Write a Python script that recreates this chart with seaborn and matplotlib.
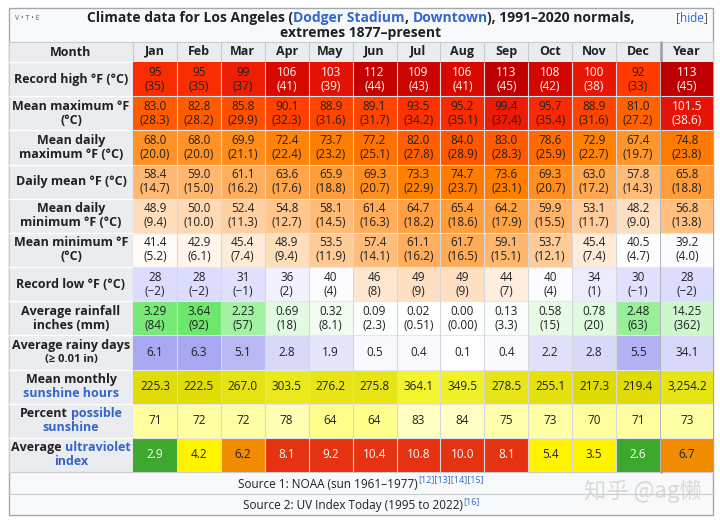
import numpy as np
import seaborn as sns
import matplotlib.pyplot as plt
from matplotlib.colors import LinearSegmentedColormap, ListedColormap
from matplotlib.patches import Rectangle

sns.set_theme(style='white')
plt.rcParams['font.family'] = ['Open Sans', 'DejaVu Sans']

# ---- data (12 months + Year) ----
months = ['Jan', 'Feb', 'Mar', 'Apr', 'May', 'Jun', 'Jul', 'Aug', 'Sep', 'Oct', 'Nov', 'Dec']
year_col = ['Year']

record_high_f = [95, 95, 99, 106, 103, 112, 109, 106, 113, 108, 100, 92, 113]
record_high_c = [35, 35, 37, 41, 39, 44, 43, 41, 45, 42, 38, 33, 45]
mean_max_f = [83.0, 82.8, 85.8, 90.1, 88.9, 89.1, 93.5, 95.2, 99.4, 95.7, 88.9, 81.0, 101.5]
mean_max_c = [28.3, 28.2, 29.9, 32.3, 31.6, 31.7, 34.2, 35.1, 37.4, 35.4, 31.6, 27.2, 38.6]
daily_max_f = [68.0, 68.0, 69.9, 72.4, 73.7, 77.2, 82.0, 84.0, 83.0, 78.6, 72.9, 67.4, 74.8]
daily_max_c = [20.0, 20.0, 21.1, 22.4, 23.2, 25.1, 27.8, 28.9, 28.3, 25.9, 22.7, 19.7, 23.8]
daily_mean_f = [58.4, 59.0, 61.1, 63.6, 65.9, 69.3, 73.3, 74.7, 73.6, 69.3, 63.0, 57.8, 65.8]
daily_mean_c = [14.7, 15.0, 16.2, 17.6, 18.8, 20.7, 22.9, 23.7, 23.1, 20.7, 17.2, 14.3, 18.8]
daily_min_f = [48.9, 50.0, 52.4, 54.8, 58.1, 61.4, 64.7, 65.4, 64.2, 59.9, 53.1, 48.2, 56.8]
daily_min_c = [9.4, 10.0, 11.3, 12.7, 14.5, 16.3, 18.2, 18.6, 17.9, 15.5, 11.7, 9.0, 13.8]
mean_min_f = [41.4, 42.9, 45.4, 48.9, 53.5, 57.4, 61.1, 61.7, 59.1, 53.7, 45.4, 40.5, 39.2]
mean_min_c = [5.2, 6.1, 7.4, 9.4, 11.9, 14.1, 16.2, 16.5, 15.1, 12.1, 7.4, 4.7, 4.0]
record_low_f = [28, 28, 31, 36, 40, 46, 49, 49, 44, 40, 34, 30, 28]
record_low_c = [-2, -2, -1, 2, 4, 8, 9, 9, 7, 4, 1, -1, -2]
rain_in = [3.29, 3.64, 2.23, 0.69, 0.32, 0.09, 0.02, 0.00, 0.13, 0.58, 0.78, 2.48, 14.25]
rain_mm = ['84', '92', '57', '18', '8.1', '2.3', '0.51', '0.00', '3.3', '15', '20', '63', '362']
rainy_days = [6.1, 6.3, 5.1, 2.8, 1.9, 0.5, 0.4, 0.1, 0.4, 2.2, 2.8, 5.5, 34.1]
sun_hours = [225.3, 222.5, 267.0, 303.5, 276.2, 275.8, 364.1, 349.5, 278.5, 255.1, 217.3, 219.4, 3254.2]
sun_pct = [71, 72, 72, 78, 64, 64, 83, 84, 75, 73, 70, 71, 73]
uv_index = [2.9, 4.2, 6.2, 8.1, 9.2, 10.4, 10.8, 10.0, 8.1, 5.4, 3.5, 2.6, 6.7]

# ---- styles ----
K = '#202122'
BLUE = '#3366cc'
HEAD_BG = '#eaecf0'
TABLE_BG = '#f8f9fa'
BORDER = '#a2a9b1'
GRID = '#d6d8dc'

temp_anchors = [(-5, '#ccccff'), (4.5, '#ffffff'), (9.4, '#ffddbb'), (14.5, '#ffba75'),
                (20, '#ff9429'), (23, '#ff8000'), (28.3, '#ff5b00'), (34, '#ff3400'),
                (38, '#e81808'), (41, '#d80a00'), (45, '#bf0000')]
t_lo, t_hi = -5, 45
temp_cmap = LinearSegmentedColormap.from_list(
    'temp', [((v - t_lo) / (t_hi - t_lo), c) for v, c in temp_anchors])
rain_cmap = LinearSegmentedColormap.from_list('rain', ['#ffffff', '#5ee65e'])
days_cmap = LinearSegmentedColormap.from_list('days', ['#ffffff', '#7373eb'])
sun_cmap = LinearSegmentedColormap.from_list('sun', ['#dcd800', '#f4f430'])
pct_cmap = LinearSegmentedColormap.from_list('pct', ['#ffff80', '#ffffd8'])
uv_cmap = ListedColormap(['#3ea72d'] * 3 + ['#fff300'] * 3 + ['#f18b00'] * 2 + ['#e53210'] * 3 + ['#b567a4'])


def temp_text(f, c, fmt):
    return [(fmt.format(a) + '\n(' + fmt.format(b) + ')').replace('-', '\u2212') for a, b in zip(f, c)]


def per_month(vals):
    # year total is coloured on the monthly scale
    return list(vals[:12]) + [vals[12] / 12]


rows = [
    dict(label=[[('Record high °F (°C)', K)]], val=record_high_c,
         text=temp_text(record_high_f, record_high_c, '{:.0f}'), cmap=temp_cmap, lim=(t_lo, t_hi),
         white=[c >= 38 for c in record_high_c]),
    dict(label=[[('Mean maximum °F', K)], [('(°C)', K)]], val=mean_max_c,
         text=temp_text(mean_max_f, mean_max_c, '{:.1f}'), cmap=temp_cmap, lim=(t_lo, t_hi),
         white=[c >= 38 for c in mean_max_c]),
    dict(label=[[('Mean daily', K)], [('maximum °F (°C)', K)]], val=daily_max_c,
         text=temp_text(daily_max_f, daily_max_c, '{:.1f}'), cmap=temp_cmap, lim=(t_lo, t_hi),
         white=[c >= 38 for c in daily_max_c]),
    dict(label=[[('Daily mean °F (°C)', K)]], val=daily_mean_c,
         text=temp_text(daily_mean_f, daily_mean_c, '{:.1f}'), cmap=temp_cmap, lim=(t_lo, t_hi),
         white=[c >= 38 for c in daily_mean_c]),
    dict(label=[[('Mean daily', K)], [('minimum °F (°C)', K)]], val=daily_min_c,
         text=temp_text(daily_min_f, daily_min_c, '{:.1f}'), cmap=temp_cmap, lim=(t_lo, t_hi),
         white=[c >= 38 for c in daily_min_c]),
    dict(label=[[('Mean minimum °F', K)], [('(°C)', K)]], val=mean_min_c,
         text=temp_text(mean_min_f, mean_min_c, '{:.1f}'), cmap=temp_cmap, lim=(t_lo, t_hi),
         white=[c >= 38 for c in mean_min_c]),
    dict(label=[[('Record low °F (°C)', K)]], val=record_low_c,
         text=temp_text(record_low_f, record_low_c, '{:.0f}'), cmap=temp_cmap, lim=(t_lo, t_hi),
         white=[c >= 38 for c in record_low_c]),
    dict(label=[[('Average rainfall', K)], [('inches (mm)', K)]],
         val=per_month([float(m) for m in rain_mm]),
         text=['{:.2f}\n({})'.format(a, b) for a, b in zip(rain_in, rain_mm)], cmap=rain_cmap,
         lim=(0, 100), white=[False] * 13),
    dict(label=[[('Average rainy days', K)], [('(≥ 0.01 in)', K, 8)]], val=per_month(rainy_days),
         text=['{:.1f}'.format(v) for v in rainy_days], cmap=days_cmap, lim=(0, 10),
         white=[False] * 13),
    dict(label=[[('Mean monthly', K)], [('sunshine hours', BLUE)]], val=per_month(sun_hours),
         text=['{:,.1f}'.format(v) for v in sun_hours], cmap=sun_cmap, lim=(200, 370),
         white=[False] * 13),
    dict(label=[[('Percent ', K), ('possible', BLUE)], [('sunshine', BLUE)]], val=sun_pct,
         text=['{:d}'.format(v) for v in sun_pct], cmap=pct_cmap, lim=(60, 90),
         white=[False] * 13),
    dict(label=[[('Average ', K), ('ultraviolet', BLUE)], [('index', BLUE)]], val=uv_index,
         text=['{:.1f}'.format(v) for v in uv_index], cmap=uv_cmap, lim=(0, 12),
         white=[v < 3 or v >= 8 for v in uv_index]),
]

n = len(rows)
vals = np.array([r['val'] for r in rows], dtype=float)
texts = np.array([r['text'] for r in rows], dtype=object)
whites = np.array([r['white'] for r in rows], dtype=bool)

# ---- layout (pixels) ----
W, H = 720, 522
TL, TR, TT, TB = 9, 713, 8, 515
LAB_R, MON_R, YEAR_L = 133, 660, 661
HEAD_T, HEAD_B, GRID_B, SRC_MID = 42, 62, 472, 494


def fx(p):
    return p / W


def fy(p):
    return 1 - p / H


fig = plt.figure(figsize=(W / 100, H / 100), dpi=100)
fig.patch.set_facecolor('white')
bg = fig.add_axes([0, 0, 1, 1])
bg.set_xlim(0, W)
bg.set_ylim(H, 0)
bg.axis('off')

bg.add_patch(Rectangle((TL, TT), TR - TL, TB - TT, fc=TABLE_BG, ec=BORDER, lw=1))
bg.add_patch(Rectangle((TL, HEAD_T), TR - TL, HEAD_B - HEAD_T, fc=HEAD_BG, ec='#c8ccd1', lw=0.8))
bg.add_patch(Rectangle((TL, HEAD_T), LAB_R - TL, GRID_B - HEAD_T, fc=HEAD_BG, ec='#c8ccd1', lw=0.8))
bg.plot([TL, TR], [GRID_B, GRID_B], color='#c8ccd1', lw=0.8)
bg.plot([TL, TR], [SRC_MID, SRC_MID], color='#c8ccd1', lw=0.8)

ax_m = fig.add_axes([fx(LAB_R), fy(GRID_B), fx(MON_R) - fx(LAB_R), fy(HEAD_B) - fy(GRID_B)])
ax_y = fig.add_axes([fx(YEAR_L), fy(GRID_B), fx(TR) - fx(YEAR_L), fy(HEAD_B) - fy(GRID_B)])

cols = [(ax_m, slice(0, 12)), (ax_y, slice(12, 13))]
for i, r in enumerate(rows):
    for white in (False, True):
        sel = np.zeros_like(whites)
        sel[i] = whites[i] == white
        for ax, cs in cols:
            if not sel[:, cs].any():
                continue
            sns.heatmap(vals[:, cs], mask=~sel[:, cs], annot=texts[:, cs], fmt='',
                        cmap=r['cmap'], vmin=r['lim'][0], vmax=r['lim'][1], cbar=False,
                        linewidths=0, xticklabels=False, yticklabels=False,
                        annot_kws=dict(fontsize=8.5, color='white' if white else K, linespacing=1.1),
                        ax=ax)

for ax, labels in ((ax_m, months), (ax_y, year_col)):
    nc = len(labels)
    ax.hlines(np.arange(1, n), 0, nc, color='#e6e7ea', lw=0.8)
    ax.vlines(np.arange(1, nc), 0, n, color=GRID, lw=0.8)
    ax.set_xticks(np.arange(nc) + 0.5)
    ax.set_xticklabels(labels, fontsize=9, fontweight='bold', color=K)
    ax.set_yticks([])
    ax.xaxis.tick_top()
    ax.tick_params(axis='x', length=0, pad=3)
    for s in ax.spines.values():
        s.set_visible(False)

# header column separators and Dec/Year divider
for j in range(13):
    xd = ax_m.transData.transform((j, 0))[0] if j < 12 else ax_y.transData.transform((0, 0))[0]
    bg.plot([xd, xd], [HEAD_T, HEAD_B], color='#c8ccd1', lw=0.8)
bg.plot([LAB_R, LAB_R], [HEAD_B, GRID_B], color='#c8ccd1', lw=0.8)
bg.plot([MON_R + 0.5, MON_R + 0.5], [HEAD_T, GRID_B], color='#9a9ea6', lw=1.8)

renderer = fig.canvas.get_renderer()


def text_width(s, size, weight):
    t = bg.text(0, 0, s, fontsize=size, fontweight=weight)
    w = t.get_window_extent(renderer).width
    t.remove()
    return w


def rich_line(xc, y, parts, size=9, weight='bold'):
    sp = text_width('n n', size, weight) - text_width('nn', size, weight)
    items = []
    for p in parts:
        s, c = p[0], p[1]
        sz = p[2] if len(p) > 2 else size
        dy = p[3] if len(p) > 3 else 0
        lead = sp if s.startswith(' ') else 0
        trail = sp if s.endswith(' ') else 0
        items.append((s.strip(), c, sz, dy, lead, text_width(s.strip(), sz, weight), trail))
    x = xc - sum(a[4] + a[5] + a[6] for a in items) / 2
    for s, c, sz, dy, lead, w, trail in items:
        x += lead
        bg.text(x, y + dy, s, color=c, fontsize=sz, fontweight=weight, ha='left', va='center')
        x += w + trail


# row labels
lab_x = (TL + LAB_R) / 2
inv = bg.transData.inverted()
for i, r in enumerate(rows):
    yc = inv.transform(ax_m.transData.transform((0, i + 0.5)))[1]
    y1 = inv.transform(ax_m.transData.transform((0, i + 1)))[1]
    if i < n - 1:
        bg.plot([TL, LAB_R], [y1, y1], color='white', lw=1)
    lines = r['label']
    for k, line in enumerate(lines):
        rich_line(lab_x, yc + (k - (len(lines) - 1) / 2) * 14, line, size=9)
bg.plot([TL, LAB_R], [HEAD_B, HEAD_B], color='white', lw=1)

bg.text(lab_x, (HEAD_T + HEAD_B) / 2, 'Month', fontsize=9, fontweight='bold', color=K,
        ha='center', va='center')

# title
mid = (TL + TR) / 2
rich_line(mid, 18, [('Climate data for Los Angeles (', K), ('Dodger Stadium', BLUE), (', ', K),
                    ('Downtown', BLUE), ('), 1991–2020 normals,', K)], size=10)
rich_line(mid, 33, [('extremes 1877–present', K)], size=10)
bg.text(15, 18, 'V • T • E', fontsize=5, color='#54595d', ha='left', va='center')
rich_line(692, 18, [('[', '#54595d'), ('hide', BLUE), (']', '#54595d')], size=8.5, weight='normal')

# sources
rich_line(mid, (GRID_B + SRC_MID) / 2 + 1,
          [('Source 1: NOAA (sun 1961–1977)', K), ('[12][13][14][15]', BLUE, 6.5, -4)],
          size=8.5, weight='normal')
rich_line(mid, (SRC_MID + TB) / 2 + 1,
          [('Source 2: UV Index Today (1995 to 2022)', K), ('[16]', BLUE, 6.5, -4)],
          size=8.5, weight='normal')

# watermark
bg.text(643, 491, '知乎 @ag懒', fontsize=16, color='#cccccc', alpha=0.7, ha='center', va='center',
        family=['Noto Sans CJK SC', 'DejaVu Sans'])

fig.savefig('out.png', dpi=100)
